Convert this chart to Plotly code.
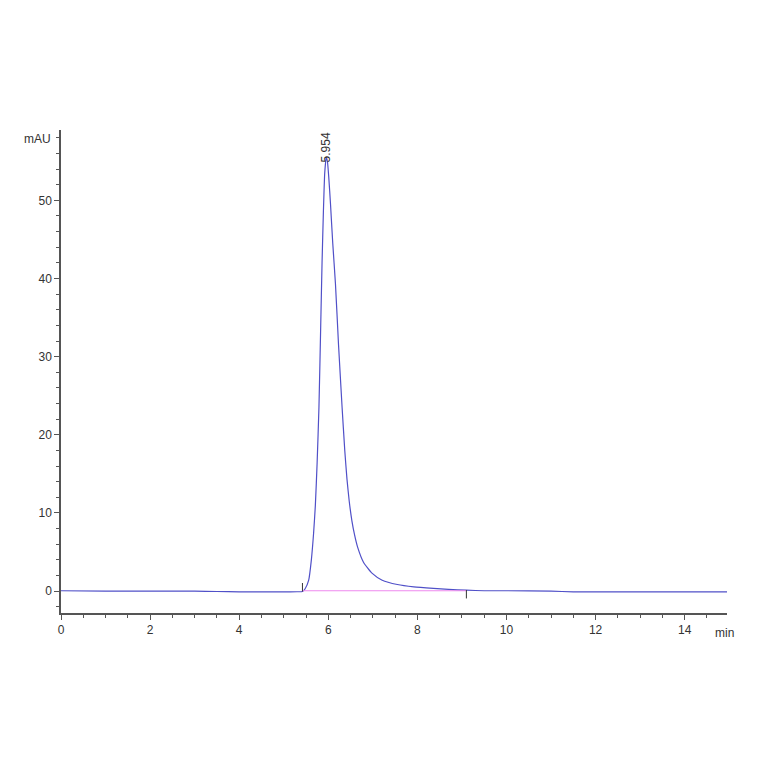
import plotly.graph_objects as go

# chromatogram (time in min, signal in mAU)
time_min = [0.0, 1.0, 2.0, 3.0, 3.5, 4.0, 4.5, 5.0, 5.3, 5.42, 5.48, 5.56,
            5.62, 5.67, 5.71, 5.75, 5.79, 5.83, 5.86, 5.89, 5.92, 5.954, 5.98,
            6.01, 6.05, 6.10, 6.16, 6.23, 6.31, 6.37, 6.42, 6.47, 6.53, 6.59,
            6.66, 6.79, 6.98, 7.21, 7.55, 7.92, 8.36, 8.7, 9.1, 9.5, 10.0, 11.0,
            11.5, 12.0, 13.0, 14.0, 14.95]
signal_mau = [0.05, 0.0, 0.0, 0.0, -0.05, -0.1, -0.1, -0.1, -0.08, -0.05, 0.3,
              1.4, 4.0, 7.4, 11.0, 16.5, 23.5, 34.0, 42.0, 48.5, 53.5, 55.5,
              55.0, 53.0, 49.5, 44.5, 39.4, 31.5, 23.5, 18.0, 14.3, 11.5, 9.0,
              7.2, 5.6, 3.7, 2.3, 1.4, 0.85, 0.55, 0.35, 0.22, 0.12, 0.05, 0.05,
              0.0, -0.1, -0.1, -0.1, -0.1, -0.1]

# integration baseline and its start / end marks
base_time = [5.42, 9.1]
base_mau = [0.05, 0.05]

peak_rt = 5.954

font_family = "Liberation Sans Narrow, Liberation Sans, Arial"

fig = go.Figure()

fig.add_trace(go.Scatter(
    x=time_min, y=signal_mau,
    mode="lines",
    line=dict(color="#5050c8", width=1.2, shape="spline", smoothing=0.5),
    hoverinfo="x+y",
))

fig.add_trace(go.Scatter(
    x=base_time, y=base_mau,
    mode="lines",
    line=dict(color="#ee88ee", width=1.2),
    hoverinfo="skip",
))

fig.add_trace(go.Scatter(
    x=base_time, y=[0.5, -0.4],
    mode="markers",
    marker=dict(symbol="line-ns", size=6, line=dict(color="#333", width=1)),
    hoverinfo="skip",
))

fig.add_annotation(
    x=peak_rt, y=56.8,
    text=f"{peak_rt:.3f}",
    textangle=-90,
    showarrow=False,
    xanchor="center", yanchor="middle",
    font=dict(family=font_family, size=12, color="#333"),
)

fig.add_annotation(
    x=0, y=1, xref="paper", yref="paper",
    text="mAU", showarrow=False,
    xanchor="right", yanchor="middle", xshift=-8, yshift=-9,
    font=dict(family=font_family, size=12, color="#333"),
)
fig.add_annotation(
    x=1, y=0, xref="paper", yref="paper",
    text="min", showarrow=False,
    xanchor="left", yanchor="top", xshift=-14, yshift=-11,
    font=dict(family=font_family, size=12, color="#333"),
)

fig.update_xaxes(
    range=[0, 14.95],
    showline=True, linecolor="#555", linewidth=2,
    ticks="outside", tickcolor="#555", ticklen=5, tickwidth=1.2,
    dtick=2, tick0=0,
    minor=dict(ticks="outside", dtick=0.5, ticklen=3, tickcolor="#555"),
    showgrid=False, zeroline=False,
    tickfont=dict(family=font_family, size=12, color="#333"),
)
fig.update_yaxes(
    range=[-2.8, 59],
    showline=True, linecolor="#555", linewidth=1.5,
    ticks="outside", tickcolor="#555", ticklen=5, tickwidth=1.2,
    dtick=10, tick0=0,
    minor=dict(ticks="outside", dtick=2, ticklen=3, tickcolor="#555"),
    showgrid=False, zeroline=False,
    tickfont=dict(family=font_family, size=12, color="#333"),
)

fig.update_layout(
    width=764, height=764,
    margin=dict(l=53, r=45, t=122, b=159),
    paper_bgcolor="white", plot_bgcolor="white",
    showlegend=False,
)

fig.write_html("out.html")
